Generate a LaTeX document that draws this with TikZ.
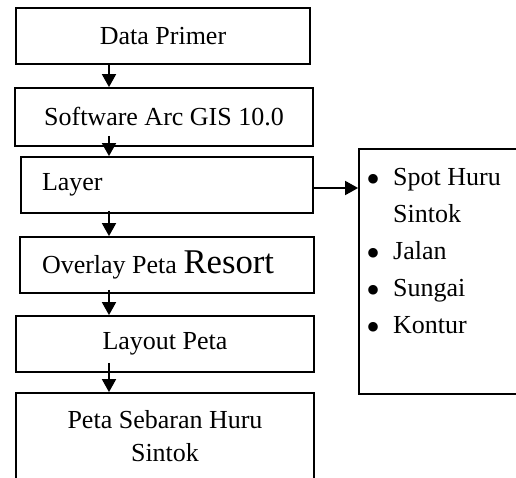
\documentclass[tikz,border=0pt]{standalone}
\usepackage{fontspec}
\setmainfont{Liberation Serif}
\usetikzlibrary{arrows.meta,calc}
\newcommand{\bigbullet}{\makebox[27pt][l]{\raisebox{-7pt}{\fontsize{40}{37}\selectfont\textbullet}}}
\begin{document}
\begin{tikzpicture}[x=1pt,y=-1pt,
  box/.style={draw, line width=1.8pt, inner sep=0pt, font=\fontsize{26}{30}\selectfont},
  flow/.style={line width=1.8pt, -{Triangle[width=14pt,length=13pt]}},
  itemtext/.style={inner sep=0pt, align=flush left, font=\fontsize{26}{37}\selectfont},
]
\useasboundingbox (0,0) rectangle (516,477);

% process boxes
\node[box, minimum width=294pt, minimum height=56pt] (b1) at (163,36) {Data Primer};
\node[box, minimum width=298pt, minimum height=58pt] (b2) at (164,117) {Software Arc GIS 10.0};
\node[box, minimum width=292pt, minimum height=56pt, text width=250pt, align=flush left, inner xsep=21pt] (b3) at (167,185) {Layer};
\node[box, minimum width=294pt, minimum height=56pt, text width=250pt, align=flush left, inner xsep=22pt] (b4) at (167,265) {Overlay Peta {\fontsize{34.7}{40}\selectfont Resort}};
\node[box, minimum width=298pt, minimum height=56pt] (b5) at (165,344) {Layout Peta};
\node[box, minimum width=298pt, minimum height=86pt, text width=298pt, align=flush center, font=\fontsize{26}{33}\selectfont] (b6) at (165,436) {Peta Sebaran Huru\\Sintok};

% layer list
\node[draw, line width=1.8pt, minimum width=171pt, minimum height=245pt] (rbox) at (444.5,271.5) {};
\node[itemtext, anchor=base west] (list) at (366,333) {%
  \bigbullet Spot Huru\\
  \hspace*{27pt}Sintok\\
  \bigbullet Jalan\\
  \bigbullet Sungai\\
  \bigbullet Kontur};

% flow arrows
\coordinate (ax) at (109,0);
\draw[flow] (b1.south -| ax) -- (b2.north -| ax);
\draw[flow] ($(b2.south -| ax)+(0,-11)$) -- (b3.north -| ax);
\draw[flow] ($(b3.south -| ax)+(0,-3)$) -- (b4.north -| ax);
\draw[flow] ($(b4.south -| ax)+(0,-4)$) -- (b5.north -| ax);
\draw[flow] ($(b5.south -| ax)+(0,-10)$) -- (b6.north -| ax);
\draw[flow] ([yshift=-3pt]b3.east) -- ([yshift=-3pt]b3.east -| rbox.west);
\end{tikzpicture}
\end{document}
